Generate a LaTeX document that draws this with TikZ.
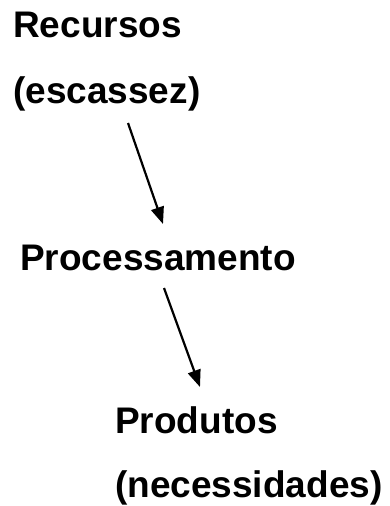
\documentclass[tikz,border=0pt]{standalone}
\usepackage{fontspec}
\setmainfont{Liberation Sans}
\usetikzlibrary{arrows.meta}

\begin{document}
\begin{tikzpicture}[
        x=1pt, y=-1pt,
        rotulo/.style={inner sep=0pt, anchor=base west, font=\bfseries\fontsize{37}{44}\selectfont},
        seta/.style={line width=2.2pt, -{Triangle[length=17pt, width=13pt]}}
    ]
        \useasboundingbox (0,0) rectangle (389,506);
        \node[rotulo] (rec) at (13,37) {Recursos};
        \node[rotulo] (esc) at (13,103) {(escassez)};
        \node[rotulo] (proc) at (20,270) {Processamento};
        \node[rotulo] (prod) at (115,433) {Produtos};
        \node[rotulo] (nec) at (115,497) {(necessidades)};
        \draw[seta] ([xshift=115pt,yshift=-20pt]esc.base west) -- ([xshift=143pt,yshift=46pt]proc.base west);
        \draw[seta] ([xshift=144pt,yshift=-18pt]proc.base west) -- ([xshift=85pt,yshift=46pt]prod.base west);
    \end{tikzpicture}
\end{document}
